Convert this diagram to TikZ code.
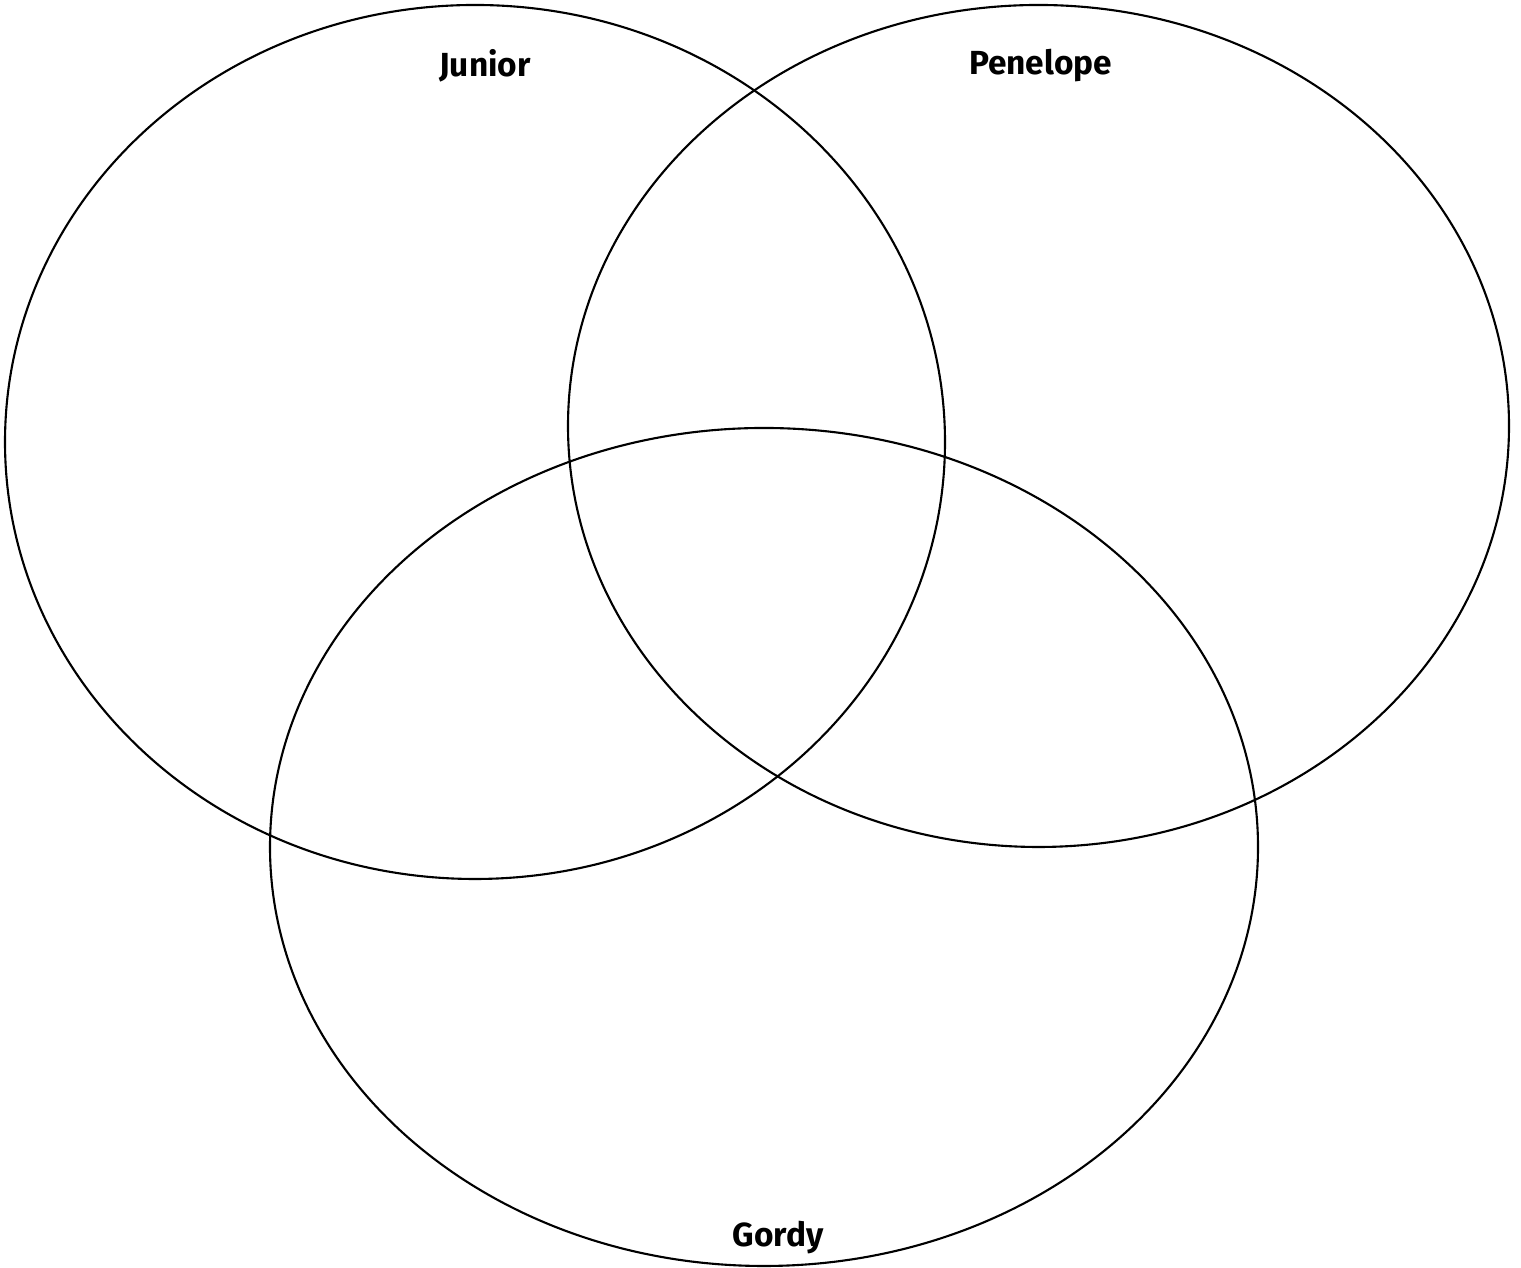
\documentclass[tikz,border=0pt]{standalone}
\usepackage{fontspec}
\setsansfont{Fira Sans}
\usetikzlibrary{positioning,shapes.geometric}

\begin{document}
\begin{tikzpicture}[
    set/.style={draw=black,line width=0.6pt,ellipse,inner sep=0pt,outer sep=0pt},
    label/.style={font=\sffamily\bfseries\fontsize{9.5}{11}\selectfont,color=black}
]
\useasboundingbox (0,0) rectangle (15.21,12.68);
\node[set,minimum width=9.40cm,minimum height=8.74cm] (junior) at (4.75,8.26) {};
\node[set,minimum width=9.41cm,minimum height=8.42cm] (penelope) at (10.385,8.42) {};
\node[set,minimum width=9.88cm,minimum height=8.38cm] (gordy) at (7.64,4.21) {};
\node[label] at ([shift={(0.10,-0.61)}]junior.north) {Junior};
\node[label] at ([shift={(0.02,-0.61)}]penelope.north) {Penelope};
\node[label] at ([shift={(0.14,0.28)}]gordy.south) {Gordy};
\end{tikzpicture}
\end{document}
